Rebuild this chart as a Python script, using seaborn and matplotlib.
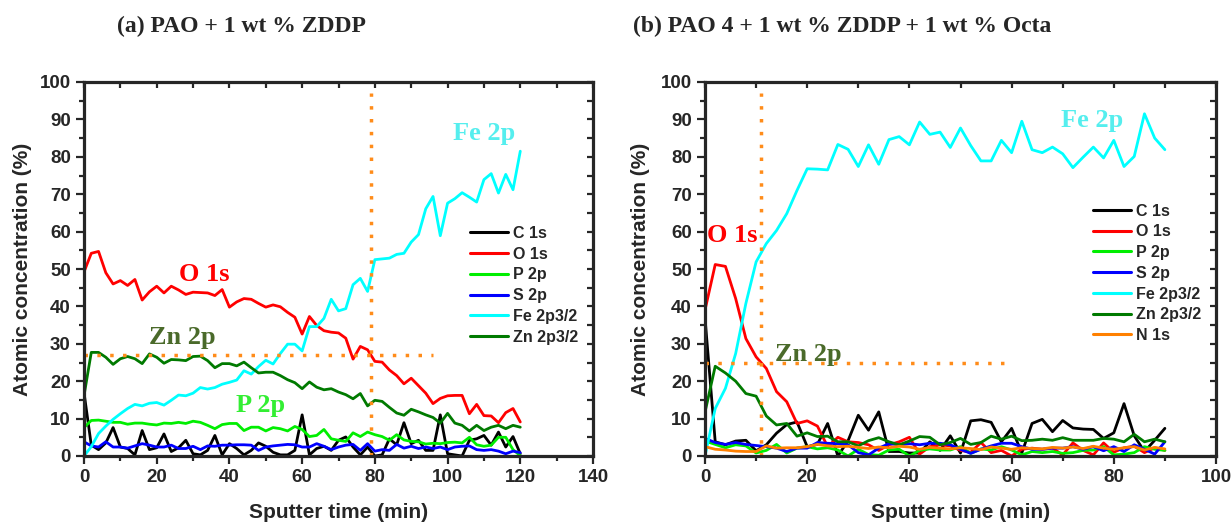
import numpy as np
import pandas as pd
import seaborn as sns
import matplotlib.pyplot as plt
from matplotlib.ticker import MultipleLocator

# sputter time grids (min)
t_a = np.arange(0, 121, 2)
t_b = np.arange(0, 91, 2)

labels_a = ['C 1s', 'O 1s', 'P 2p', 'S 2p', 'Fe 2p3/2', 'Zn 2p3/2']
labels_b = ['C 1s', 'O 1s', 'P 2p', 'S 2p', 'Fe 2p3/2', 'Zn 2p3/2', 'N 1s']

# (a) PAO + 1 wt % ZDDP
c_a = [17.0, 2.9, 1.7, 3.5, 7.6, 2.4, 2.0, 0.3, 6.8, 1.7, 2.2, 5.9, 1.2, 2.2, 4.2, 0.6,
       0.3, 1.5, 5.5, 0.3, 3.3, 2.0, 0.3, 1.5, 3.5, 2.6, 1.0, 0.3, 0.3, 1.5, 11.0, 0.3,
       2.0, 2.6, 1.5, 4.2, 5.1, 2.4, 0.3, 2.4, 0.0, 0.3, 4.6, 3.0, 8.9, 3.3, 4.2, 1.5,
       1.5, 11.0, 0.6, 0.3, 0.0, 4.2, 4.6, 5.5, 2.9, 6.4, 2.4, 5.2, 0.6]
o_a = [49.2, 54.2, 54.7, 49.0, 46.0, 46.9, 45.6, 47.2, 41.7, 43.9, 45.4, 43.6, 45.4, 44.4,
       43.2, 43.8, 43.7, 43.6, 42.9, 44.5, 39.8, 41.2, 42.1, 41.9, 40.8, 39.8, 40.4, 39.9,
       38.4, 37.1, 32.6, 37.3, 34.9, 33.5, 33.1, 32.9, 31.5, 25.9, 29.3, 28.4, 25.3, 25.1,
       23.0, 21.5, 19.3, 20.8, 18.8, 16.8, 14.0, 15.4, 16.1, 16.2, 16.2, 11.3, 13.8, 10.8,
       10.7, 8.9, 11.6, 12.7, 9.1]
p_a = [7.6, 9.5, 9.6, 9.3, 9.0, 9.0, 8.5, 8.8, 8.8, 8.5, 8.3, 8.8, 8.7, 9.0, 8.7, 9.3,
       9.0, 8.2, 7.3, 8.4, 8.7, 8.7, 6.8, 7.7, 7.7, 6.7, 7.6, 7.3, 6.7, 7.9, 7.1, 5.2,
       5.5, 7.1, 4.6, 4.2, 3.9, 6.2, 5.2, 6.4, 5.7, 5.2, 4.2, 5.7, 4.3, 3.9, 3.8, 3.2,
       3.4, 3.3, 3.6, 3.7, 3.5, 5.0, 3.0, 2.6, 2.9, 5.0, 5.0, 1.7, 0.1]
s_a = [3.8, 2.7, 2.4, 3.8, 2.4, 2.4, 2.1, 2.7, 3.3, 2.9, 2.4, 2.4, 2.9, 2.0, 2.0, 2.6,
       1.7, 2.7, 2.6, 2.9, 2.9, 3.0, 3.0, 2.9, 1.5, 2.4, 2.7, 2.9, 3.1, 3.0, 2.4, 2.4,
       3.3, 2.6, 1.7, 2.4, 2.9, 3.1, 1.5, 3.3, 1.3, 1.7, 1.5, 3.1, 2.1, 2.6, 2.0, 2.4,
       2.0, 2.4, 1.7, 2.4, 2.6, 2.7, 1.7, 1.5, 1.7, 1.3, 0.6, 1.3, 0.9]
fe_a = [0.0, 2.5, 6.0, 8.0, 9.8, 11.3, 12.7, 13.8, 13.4, 14.1, 14.3, 13.6, 14.9, 16.3,
        16.1, 16.8, 18.3, 17.9, 18.3, 19.2, 19.7, 20.3, 22.8, 21.9, 23.9, 25.6, 24.6, 27.4,
        29.9, 29.9, 28.1, 34.6, 34.6, 36.8, 41.9, 38.8, 39.4, 45.8, 47.5, 44.0, 52.5, 52.7,
        52.9, 53.9, 54.2, 57.2, 59.2, 66.1, 69.4, 58.9, 67.6, 68.8, 70.4, 69.2, 67.9, 73.9,
        75.5, 70.3, 75.3, 71.2, 81.5]
zn_a = [16.1, 27.7, 27.7, 26.4, 24.5, 26.0, 26.6, 26.0, 24.7, 27.3, 26.4, 24.8, 25.8, 25.7,
        25.5, 26.6, 26.7, 25.5, 23.6, 24.7, 24.7, 24.1, 25.1, 23.6, 22.2, 22.4, 22.4, 21.5,
        20.4, 19.6, 18.0, 19.8, 18.4, 17.7, 18.0, 17.1, 16.4, 15.3, 16.7, 13.4, 14.9, 14.6,
        13.0, 11.5, 10.9, 12.5, 11.8, 11.0, 10.3, 8.8, 11.4, 8.8, 8.2, 6.7, 8.2, 6.8,
        7.7, 8.2, 7.3, 8.2, 7.7]

# (b) PAO 4 + 1 wt % ZDDP + 1 wt % Octa
c_b = [37.0, 3.8, 3.0, 4.0, 4.2, 1.4, 3.0, 6.1, 8.4, 9.1, 2.5, 3.1, 8.7, 0.0, 4.1, 10.9,
       6.9, 11.8, 1.2, 1.2, 0.8, 0.8, 3.8, 1.5, 5.4, 0.8, 9.4, 9.7, 9.0, 3.8, 7.4, 0.8,
       8.7, 9.8, 6.5, 9.5, 7.5, 7.2, 7.1, 4.7, 6.2, 14.0, 5.4, 1.2, 4.2, 7.4]
o_b = [39.0, 51.2, 50.7, 42.1, 31.4, 26.5, 23.4, 17.2, 14.5, 8.7, 9.4, 8.0, 2.5, 5.0, 3.8,
       3.6, 3.0, 1.5, 3.0, 3.8, 5.0, 0.5, 2.5, 3.0, 2.7, 1.5, 1.0, 3.6, 0.9, 1.5, 0.0,
       1.8, 2.1, 1.8, 2.1, 0.3, 3.5, 1.5, 0.3, 3.5, 1.0, 2.2, 2.6, 0.9, 2.2, 1.5]
p_b = [4.0, 3.1, 2.2, 3.0, 2.7, 0.8, 1.5, 3.1, 0.8, 2.1, 2.5, 1.9, 2.2, 1.6, 0.0, 1.8,
       0.4, 0.2, 1.6, 1.8, 0.0, 1.5, 1.9, 1.6, 1.6, 2.5, 0.7, 1.9, 1.6, 2.5, 1.6, 0.3,
       1.2, 0.9, 1.2, 0.7, 0.9, 1.5, 1.6, 2.5, 0.3, 0.5, 0.9, 2.5, 1.8, 1.5]
s_b = [4.7, 3.6, 3.1, 3.6, 3.1, 2.8, 2.5, 2.1, 1.2, 2.1, 2.1, 3.6, 3.4, 3.3, 3.0, 0.9,
       0.3, 2.1, 3.3, 3.0, 3.3, 3.0, 3.4, 3.4, 3.0, 1.8, 0.7, 1.8, 2.7, 3.4, 3.4, 2.5,
       1.8, 1.8, 2.1, 2.1, 2.5, 1.8, 2.5, 1.4, 2.5, 1.2, 3.0, 1.8, 0.5, 3.8]
fe_b = [0.0, 12.7, 18.1, 27.4, 40.8, 51.9, 56.8, 60.3, 64.8, 71.0, 76.8, 76.7, 76.5, 83.3,
        82.0, 77.4, 83.2, 78.0, 84.6, 85.4, 83.2, 89.3, 86.0, 86.6, 82.5, 87.7, 83.0, 78.9,
        78.9, 84.4, 81.1, 89.5, 81.9, 81.1, 82.6, 80.8, 77.1, 79.9, 82.6, 79.7, 84.4, 77.4,
        80.1, 91.5, 85.0, 81.9]
zn_b = [11.7, 24.0, 22.2, 20.0, 16.7, 16.0, 10.7, 8.3, 8.7, 5.3, 6.2, 5.2, 5.3, 3.8, 3.8,
        2.7, 4.1, 4.9, 3.8, 3.0, 4.0, 5.2, 5.0, 3.0, 3.6, 4.7, 3.1, 3.6, 5.3, 4.5, 5.3,
        4.1, 4.2, 4.5, 4.2, 4.9, 4.2, 4.2, 4.2, 4.7, 4.5, 3.8, 5.8, 3.8, 4.5, 3.8]
n_b = [2.5, 1.8, 1.6, 1.3, 1.2, 1.2, 2.7, 2.1, 2.2, 2.2, 2.5, 3.1, 2.7, 2.5, 2.6, 2.3,
       2.0, 2.4, 2.2, 2.6, 2.4, 1.8, 2.3, 2.1, 1.9, 2.2, 2.0, 1.7, 2.4, 2.1, 1.8, 2.2,
       2.0, 1.9, 2.3, 2.1, 2.4, 2.0, 2.6, 2.1, 1.8, 2.2, 2.5, 1.6, 2.3, 1.9]

colors = {'C 1s': '#000000', 'O 1s': '#ff0000', 'P 2p': '#00ee00', 'S 2p': '#0000ff',
          'Fe 2p3/2': '#00ffff', 'Zn 2p3/2': '#007a00', 'N 1s': '#ff8000'}

sns.set_style('ticks')
plt.rcParams['font.family'] = ['Liberation Sans', 'DejaVu Sans']
plt.rcParams['font.weight'] = 'bold'
plt.rcParams['axes.labelweight'] = 'bold'

fig = plt.figure(figsize=(12.32, 5.24), dpi=100)
ax_a = fig.add_axes([84 / 1232, 68 / 524, 509 / 1232, 374 / 524])
ax_b = fig.add_axes([705 / 1232, 68 / 524, 511 / 1232, 374 / 524])

serif = dict(family=['Liberation Serif', 'DejaVu Serif'], weight='bold')


def make_df(t, series, labels):
    return pd.DataFrame({'t': np.tile(t, len(labels)),
                         'v': np.concatenate(series),
                         'el': np.repeat(labels, len(t))})


def style_axes(ax, xmax, xmajor):
    ax.set_xlim(0, xmax)
    ax.set_ylim(0, 100)
    ax.xaxis.set_major_locator(MultipleLocator(xmajor))
    ax.xaxis.set_minor_locator(MultipleLocator(xmajor / 2))
    ax.yaxis.set_major_locator(MultipleLocator(10))
    ax.yaxis.set_minor_locator(MultipleLocator(5))
    for sp in ax.spines.values():
        sp.set_visible(True)
        sp.set_linewidth(2.3)
    ax.tick_params(which='major', direction='out', length=6, width=1.6, labelsize=13.5)
    ax.tick_params(which='minor', direction='out', length=3.5, width=1.6)
    for lab in ax.get_xticklabels() + ax.get_yticklabels():
        lab.set_fontweight('bold')
    # inward ticks on top and right like the original
    top = ax.secondary_xaxis('top')
    top.xaxis.set_major_locator(MultipleLocator(xmajor / 2))
    top.tick_params(direction='in', length=4, width=1.6, labeltop=False)
    top.spines['top'].set_visible(False)
    right = ax.secondary_yaxis('right')
    right.yaxis.set_major_locator(MultipleLocator(5))
    right.tick_params(direction='in', length=4, width=1.6, labelright=False)
    right.spines['right'].set_visible(False)
    ax.set_xlabel('Sputter time (min)', fontsize=15, fontweight='bold')
    ax.set_ylabel('Atomic concentration (%)', fontsize=15, fontweight='bold')
    ax.xaxis.set_label_coords(0.5, -0.125)


def draw(ax, df, labels, anchor):
    sns.lineplot(data=df, x='t', y='v', hue='el', hue_order=labels, palette=colors,
                 linewidth=2.0, errorbar=None, sort=False, ax=ax)
    h, l = ax.get_legend_handles_labels()
    for hh in h:
        hh.set_linewidth(2.2)
    ax.legend(h, l, loc='upper left', bbox_to_anchor=anchor, frameon=False,
              borderaxespad=0, borderpad=0, handlelength=2.4, handletextpad=0.3,
              labelspacing=0.36, prop=dict(family='Liberation Sans', weight='bold', size=11.5))


# panel (a)
df_a = make_df(t_a, [c_a, o_a, p_a, s_a, fe_a, zn_a], labels_a)
draw(ax_a, df_a, labels_a, (0.758, 0.615))
ax_a.plot([79, 79], [0, 97], color='#ff8c1a', lw=2.5, ls=(0, (1, 2.7)))
ax_a.plot([0, 96], [27, 27], color='#ff8c1a', lw=2.5, ls=(0, (1, 2.7)))
style_axes(ax_a, 140, 20)
ax_a.yaxis.set_label_coords(-0.102, 0.5)
ax_a.text(33, 48.5, 'O 1s', color='#ff0000', fontsize=19, ha='center', va='center', **serif)
ax_a.text(27, 31.6, 'Zn 2p', color='#4a6a2a', fontsize=19, ha='center', va='center', **serif)
ax_a.text(48.5, 13.4, 'P 2p', color='#33ee33', fontsize=19, ha='center', va='center', **serif)
ax_a.text(110, 86.3, 'Fe 2p', color='#55eeee', fontsize=19, ha='center', va='center', **serif)

# panel (b)
df_b = make_df(t_b, [c_b, o_b, p_b, s_b, fe_b, zn_b, n_b], labels_b)
draw(ax_b, df_b, labels_b, (0.759, 0.675))
ax_b.plot([10.9, 10.9], [0, 97], color='#ff8c1a', lw=2.5, ls=(0, (1, 2.7)))
ax_b.plot([0, 60], [25, 25], color='#ff8c1a', lw=2.5, ls=(0, (1, 2.7)))
style_axes(ax_b, 100, 20)
ax_b.yaxis.set_label_coords(-0.108, 0.5)
ax_b.text(5.4, 59.0, 'O 1s', color='#ff0000', fontsize=19, ha='center', va='center', **serif)
ax_b.text(20.3, 27.2, 'Zn 2p', color='#4a6a2a', fontsize=19, ha='center', va='center', **serif)
ax_b.text(75.8, 89.7, 'Fe 2p', color='#55eeee', fontsize=19, ha='center', va='center', **serif)

fig.text(241 / 1232, 1 - 26 / 524, '(a) PAO + 1 wt % ZDDP', fontsize=17,
         ha='center', va='center', **serif)
fig.text(842 / 1232, 1 - 26 / 524, '(b) PAO 4 + 1 wt % ZDDP + 1 wt % Octa', fontsize=17,
         ha='center', va='center', **serif)

fig.savefig('out.png', dpi=100)
